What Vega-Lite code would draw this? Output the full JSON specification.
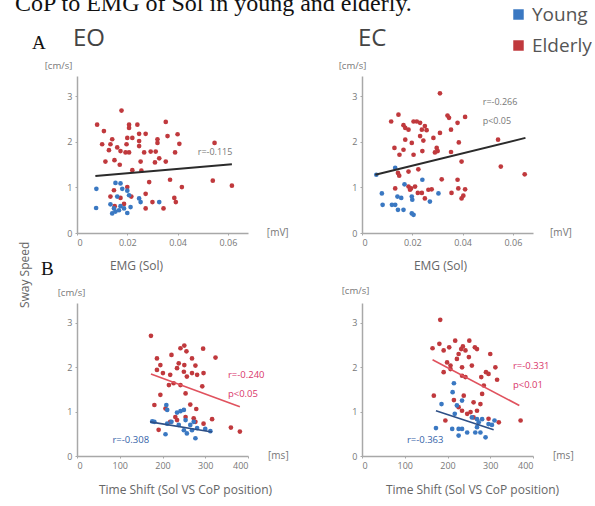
{
  "$schema": "https://vega.github.io/schema/vega-lite/v6.json",
  "background": "white",
  "padding": {"left": 15, "top": -8, "right": 0, "bottom": 6},
  "title": {"text": "CoP to EMG of Sol in young and elderly.", "anchor": "start", "frame": "group", "dx": -62, "offset": -30, "baseline": "alphabetic", "font": "Liberation Serif", "fontSize": 24, "fontWeight": "normal", "color": "#111"},
  "datasets": {
    "points": [
      {"p":"AEO","g":"Elderly","x":0.0177,"y":2.69},{"p":"AEO","g":"Elderly","x":0.008,"y":2.38},{"p":"AEO","g":"Elderly","x":0.0107,"y":2.24},{"p":"AEO","g":"Elderly","x":0.0207,"y":2.38},{"p":"AEO","g":"Elderly","x":0.024,"y":2.38},{"p":"AEO","g":"Elderly","x":0.0353,"y":2.44},{"p":"AEO","g":"Elderly","x":0.0207,"y":2.31},{"p":"AEO","g":"Elderly","x":0.014,"y":2.06},{"p":"AEO","g":"Elderly","x":0.02,"y":2.09},{"p":"AEO","g":"Elderly","x":0.022,"y":2.09},{"p":"AEO","g":"Elderly","x":0.0247,"y":2.18},{"p":"AEO","g":"Elderly","x":0.0273,"y":2.18},{"p":"AEO","g":"Elderly","x":0.032,"y":2.06},{"p":"AEO","g":"Elderly","x":0.036,"y":2.13},{"p":"AEO","g":"Elderly","x":0.04,"y":2.17},{"p":"AEO","g":"Elderly","x":0.01,"y":1.95},{"p":"AEO","g":"Elderly","x":0.0133,"y":1.95},{"p":"AEO","g":"Elderly","x":0.016,"y":1.88},{"p":"AEO","g":"Elderly","x":0.0197,"y":1.95},{"p":"AEO","g":"Elderly","x":0.0247,"y":2.02},{"p":"AEO","g":"Elderly","x":0.0247,"y":1.91},{"p":"AEO","g":"Elderly","x":0.032,"y":1.98},{"p":"AEO","g":"Elderly","x":0.0407,"y":1.96},{"p":"AEO","g":"Elderly","x":0.0547,"y":1.98},{"p":"AEO","g":"Elderly","x":0.0127,"y":1.82},{"p":"AEO","g":"Elderly","x":0.0173,"y":1.8},{"p":"AEO","g":"Elderly","x":0.0193,"y":1.77},{"p":"AEO","g":"Elderly","x":0.0207,"y":1.77},{"p":"AEO","g":"Elderly","x":0.0267,"y":1.77},{"p":"AEO","g":"Elderly","x":0.0293,"y":1.79},{"p":"AEO","g":"Elderly","x":0.0313,"y":1.79},{"p":"AEO","g":"Elderly","x":0.039,"y":1.77},{"p":"AEO","g":"Elderly","x":0.0113,"y":1.57},{"p":"AEO","g":"Elderly","x":0.0149,"y":1.6},{"p":"AEO","g":"Elderly","x":0.017,"y":1.5},{"p":"AEO","g":"Elderly","x":0.0253,"y":1.57},{"p":"AEO","g":"Elderly","x":0.031,"y":1.55},{"p":"AEO","g":"Elderly","x":0.0327,"y":1.64},{"p":"AEO","g":"Elderly","x":0.0353,"y":1.57},{"p":"AEO","g":"Elderly","x":0.022,"y":1.38},{"p":"AEO","g":"Elderly","x":0.0256,"y":1.37},{"p":"AEO","g":"Elderly","x":0.0287,"y":1.12},{"p":"AEO","g":"Elderly","x":0.037,"y":1.17},{"p":"AEO","g":"Elderly","x":0.0417,"y":1.01},{"p":"AEO","g":"Elderly","x":0.054,"y":1.15},{"p":"AEO","g":"Elderly","x":0.0616,"y":1.04},{"p":"AEO","g":"Elderly","x":0.02,"y":1.01},{"p":"AEO","g":"Elderly","x":0.0147,"y":0.94},{"p":"AEO","g":"Elderly","x":0.0133,"y":0.8},{"p":"AEO","g":"Elderly","x":0.0173,"y":0.77},{"p":"AEO","g":"Elderly","x":0.0216,"y":0.8},{"p":"AEO","g":"Elderly","x":0.0273,"y":0.86},{"p":"AEO","g":"Elderly","x":0.03,"y":0.68},{"p":"AEO","g":"Elderly","x":0.0273,"y":0.54},{"p":"AEO","g":"Elderly","x":0.0344,"y":0.54},{"p":"AEO","g":"Elderly","x":0.0387,"y":0.77},{"p":"AEO","g":"Elderly","x":0.0393,"y":0.68},{"p":"AEO","g":"Elderly","x":0.015,"y":0.59},{"p":"AEO","g":"Elderly","x":0.0187,"y":0.64},
      {"p":"AEO","g":"Young","x":0.0077,"y":0.97},{"p":"AEO","g":"Young","x":0.0076,"y":0.55},{"p":"AEO","g":"Young","x":0.0153,"y":1.1},{"p":"AEO","g":"Young","x":0.0173,"y":1.09},{"p":"AEO","g":"Young","x":0.018,"y":0.97},{"p":"AEO","g":"Young","x":0.02,"y":0.93},{"p":"AEO","g":"Young","x":0.016,"y":0.8},{"p":"AEO","g":"Young","x":0.0207,"y":0.83},{"p":"AEO","g":"Young","x":0.0247,"y":0.76},{"p":"AEO","g":"Young","x":0.0253,"y":0.68},{"p":"AEO","g":"Young","x":0.0327,"y":0.68},{"p":"AEO","g":"Young","x":0.0133,"y":0.63},{"p":"AEO","g":"Young","x":0.0147,"y":0.54},{"p":"AEO","g":"Young","x":0.014,"y":0.43},{"p":"AEO","g":"Young","x":0.0153,"y":0.47},{"p":"AEO","g":"Young","x":0.0167,"y":0.5},{"p":"AEO","g":"Young","x":0.02,"y":0.44},{"p":"AEO","g":"Young","x":0.0213,"y":0.57},{"p":"AEO","g":"Young","x":0.0173,"y":0.59},{"p":"AEO","g":"Young","x":0.0187,"y":0.54},
      {"p":"AEC","g":"Elderly","x":0.031,"y":3.07},{"p":"AEC","g":"Elderly","x":0.0145,"y":2.6},{"p":"AEC","g":"Elderly","x":0.0116,"y":2.45},{"p":"AEC","g":"Elderly","x":0.0165,"y":2.37},{"p":"AEC","g":"Elderly","x":0.0205,"y":2.45},{"p":"AEC","g":"Elderly","x":0.0218,"y":2.45},{"p":"AEC","g":"Elderly","x":0.0231,"y":2.42},{"p":"AEC","g":"Elderly","x":0.025,"y":2.35},{"p":"AEC","g":"Elderly","x":0.034,"y":2.58},{"p":"AEC","g":"Elderly","x":0.0346,"y":2.53},{"p":"AEC","g":"Elderly","x":0.038,"y":2.42},{"p":"AEC","g":"Elderly","x":0.041,"y":2.55},{"p":"AEC","g":"Elderly","x":0.0354,"y":2.27},{"p":"AEC","g":"Elderly","x":0.0172,"y":2.31},{"p":"AEC","g":"Elderly","x":0.0185,"y":2.27},{"p":"AEC","g":"Elderly","x":0.0238,"y":2.27},{"p":"AEC","g":"Elderly","x":0.0257,"y":2.26},{"p":"AEC","g":"Elderly","x":0.031,"y":2.2},{"p":"AEC","g":"Elderly","x":0.0172,"y":2.05},{"p":"AEC","g":"Elderly","x":0.0198,"y":1.98},{"p":"AEC","g":"Elderly","x":0.0231,"y":2.13},{"p":"AEC","g":"Elderly","x":0.0244,"y":2.03},{"p":"AEC","g":"Elderly","x":0.0284,"y":2.09},{"p":"AEC","g":"Elderly","x":0.0385,"y":1.99},{"p":"AEC","g":"Elderly","x":0.0129,"y":1.87},{"p":"AEC","g":"Elderly","x":0.0165,"y":1.83},{"p":"AEC","g":"Elderly","x":0.024,"y":1.8},{"p":"AEC","g":"Elderly","x":0.0297,"y":1.87},{"p":"AEC","g":"Elderly","x":0.0301,"y":1.8},{"p":"AEC","g":"Elderly","x":0.0149,"y":1.72},{"p":"AEC","g":"Elderly","x":0.0205,"y":1.72},{"p":"AEC","g":"Elderly","x":0.029,"y":1.77},{"p":"AEC","g":"Elderly","x":0.0354,"y":1.78},{"p":"AEC","g":"Elderly","x":0.0541,"y":2.05},{"p":"AEC","g":"Elderly","x":0.0396,"y":1.57},{"p":"AEC","g":"Elderly","x":0.0143,"y":1.32},{"p":"AEC","g":"Elderly","x":0.0185,"y":1.35},{"p":"AEC","g":"Elderly","x":0.0224,"y":1.4},{"p":"AEC","g":"Elderly","x":0.0148,"y":1.26},{"p":"AEC","g":"Elderly","x":0.0552,"y":1.46},{"p":"AEC","g":"Elderly","x":0.0647,"y":1.29},{"p":"AEC","g":"Elderly","x":0.0317,"y":1.18},{"p":"AEC","g":"Elderly","x":0.038,"y":1.17},{"p":"AEC","g":"Elderly","x":0.0132,"y":0.98},{"p":"AEC","g":"Elderly","x":0.0185,"y":1.02},{"p":"AEC","g":"Elderly","x":0.0195,"y":0.98},{"p":"AEC","g":"Elderly","x":0.0211,"y":1.02},{"p":"AEC","g":"Elderly","x":0.0238,"y":0.88},{"p":"AEC","g":"Elderly","x":0.0264,"y":0.95},{"p":"AEC","g":"Elderly","x":0.0277,"y":0.96},{"p":"AEC","g":"Elderly","x":0.0356,"y":0.88},{"p":"AEC","g":"Elderly","x":0.0383,"y":0.98},{"p":"AEC","g":"Elderly","x":0.041,"y":0.96},{"p":"AEC","g":"Elderly","x":0.0396,"y":0.76},{"p":"AEC","g":"Elderly","x":0.0403,"y":0.82},{"p":"AEC","g":"Elderly","x":0.025,"y":0.76},{"p":"AEC","g":"Elderly","x":0.0222,"y":0.88},{"p":"AEC","g":"Elderly","x":0.0191,"y":0.95},
      {"p":"AEC","g":"Young","x":0.0132,"y":1.43},{"p":"AEC","g":"Young","x":0.0169,"y":1.07},{"p":"AEC","g":"Young","x":0.024,"y":1.17},{"p":"AEC","g":"Young","x":0.0079,"y":0.87},{"p":"AEC","g":"Young","x":0.0082,"y":0.62},{"p":"AEC","g":"Young","x":0.0141,"y":0.8},{"p":"AEC","g":"Young","x":0.0156,"y":0.77},{"p":"AEC","g":"Young","x":0.0198,"y":0.8},{"p":"AEC","g":"Young","x":0.02,"y":0.73},{"p":"AEC","g":"Young","x":0.0304,"y":0.87},{"p":"AEC","g":"Young","x":0.027,"y":0.69},{"p":"AEC","g":"Young","x":0.0119,"y":0.62},{"p":"AEC","g":"Young","x":0.0132,"y":0.62},{"p":"AEC","g":"Young","x":0.0143,"y":0.51},{"p":"AEC","g":"Young","x":0.0165,"y":0.51},{"p":"AEC","g":"Young","x":0.0198,"y":0.43},{"p":"AEC","g":"Young","x":0.0205,"y":0.4},{"p":"AEC","g":"Young","x":0.0057,"y":1.28},
      {"p":"BEO","g":"Elderly","x":173,"y":2.71},{"p":"BEO","g":"Elderly","x":242,"y":2.43},{"p":"BEO","g":"Elderly","x":251,"y":2.49},{"p":"BEO","g":"Elderly","x":256,"y":2.36},{"p":"BEO","g":"Elderly","x":295,"y":2.42},{"p":"BEO","g":"Elderly","x":324,"y":2.22},{"p":"BEO","g":"Elderly","x":187,"y":2.2},{"p":"BEO","g":"Elderly","x":221,"y":2.28},{"p":"BEO","g":"Elderly","x":269,"y":2.2},{"p":"BEO","g":"Elderly","x":195,"y":2.05},{"p":"BEO","g":"Elderly","x":238,"y":2.09},{"p":"BEO","g":"Elderly","x":251,"y":2.05},{"p":"BEO","g":"Elderly","x":277,"y":2.04},{"p":"BEO","g":"Elderly","x":187,"y":1.94},{"p":"BEO","g":"Elderly","x":201,"y":1.87},{"p":"BEO","g":"Elderly","x":218,"y":1.83},{"p":"BEO","g":"Elderly","x":234,"y":1.98},{"p":"BEO","g":"Elderly","x":250,"y":1.9},{"p":"BEO","g":"Elderly","x":269,"y":1.87},{"p":"BEO","g":"Elderly","x":281,"y":1.83},{"p":"BEO","g":"Elderly","x":296,"y":1.87},{"p":"BEO","g":"Elderly","x":257,"y":1.79},{"p":"BEO","g":"Elderly","x":215,"y":1.6},{"p":"BEO","g":"Elderly","x":226,"y":1.64},{"p":"BEO","g":"Elderly","x":242,"y":1.6},{"p":"BEO","g":"Elderly","x":254,"y":1.41},{"p":"BEO","g":"Elderly","x":293,"y":1.57},{"p":"BEO","g":"Elderly","x":195,"y":1.38},{"p":"BEO","g":"Elderly","x":181,"y":1.15},{"p":"BEO","g":"Elderly","x":207,"y":1.07},{"p":"BEO","g":"Elderly","x":265,"y":1.16},{"p":"BEO","g":"Elderly","x":279,"y":1.06},{"p":"BEO","g":"Elderly","x":191,"y":0.59},{"p":"BEO","g":"Elderly","x":230,"y":0.88},{"p":"BEO","g":"Elderly","x":254,"y":0.88},{"p":"BEO","g":"Elderly","x":273,"y":0.85},{"p":"BEO","g":"Elderly","x":277,"y":0.77},{"p":"BEO","g":"Elderly","x":218,"y":0.77},{"p":"BEO","g":"Elderly","x":234,"y":0.81},{"p":"BEO","g":"Elderly","x":296,"y":0.73},{"p":"BEO","g":"Elderly","x":316,"y":0.83},{"p":"BEO","g":"Elderly","x":360,"y":0.64},{"p":"BEO","g":"Elderly","x":381,"y":0.55},
      {"p":"BEO","g":"Young","x":209,"y":1.15},{"p":"BEO","g":"Young","x":211,"y":1.04},{"p":"BEO","g":"Young","x":176,"y":0.78},{"p":"BEO","g":"Young","x":181,"y":0.77},{"p":"BEO","g":"Young","x":211,"y":0.73},{"p":"BEO","g":"Young","x":221,"y":0.77},{"p":"BEO","g":"Young","x":234,"y":0.98},{"p":"BEO","g":"Young","x":242,"y":1.01},{"p":"BEO","g":"Young","x":250,"y":1.04},{"p":"BEO","g":"Young","x":254,"y":0.81},{"p":"BEO","g":"Young","x":238,"y":0.7},{"p":"BEO","g":"Young","x":250,"y":0.58},{"p":"BEO","g":"Young","x":257,"y":0.51},{"p":"BEO","g":"Young","x":269,"y":0.58},{"p":"BEO","g":"Young","x":277,"y":0.4},{"p":"BEO","g":"Young","x":300,"y":0.61},{"p":"BEO","g":"Young","x":312,"y":0.56},{"p":"BEO","g":"Young","x":207,"y":0.49},{"p":"BEO","g":"Young","x":281,"y":0.63},{"p":"BEO","g":"Young","x":265,"y":0.7},{"p":"BEO","g":"Young","x":273,"y":0.77},
      {"p":"BEC","g":"Elderly","x":183,"y":3.07},{"p":"BEC","g":"Elderly","x":165,"y":2.43},{"p":"BEC","g":"Elderly","x":181,"y":2.53},{"p":"BEC","g":"Elderly","x":191,"y":2.38},{"p":"BEC","g":"Elderly","x":204,"y":2.45},{"p":"BEC","g":"Elderly","x":218,"y":2.6},{"p":"BEC","g":"Elderly","x":232,"y":2.41},{"p":"BEC","g":"Elderly","x":236,"y":2.47},{"p":"BEC","g":"Elderly","x":242,"y":2.38},{"p":"BEC","g":"Elderly","x":251,"y":2.6},{"p":"BEC","g":"Elderly","x":264,"y":2.45},{"p":"BEC","g":"Elderly","x":269,"y":2.41},{"p":"BEC","g":"Elderly","x":226,"y":2.3},{"p":"BEC","g":"Elderly","x":222,"y":2.19},{"p":"BEC","g":"Elderly","x":250,"y":2.23},{"p":"BEC","g":"Elderly","x":300,"y":2.3},{"p":"BEC","g":"Elderly","x":199,"y":2.11},{"p":"BEC","g":"Elderly","x":207,"y":2.04},{"p":"BEC","g":"Elderly","x":207,"y":1.96},{"p":"BEC","g":"Elderly","x":191,"y":1.89},{"p":"BEC","g":"Elderly","x":234,"y":2.0},{"p":"BEC","g":"Elderly","x":257,"y":2.04},{"p":"BEC","g":"Elderly","x":234,"y":1.81},{"p":"BEC","g":"Elderly","x":242,"y":1.78},{"p":"BEC","g":"Elderly","x":279,"y":1.78},{"p":"BEC","g":"Elderly","x":290,"y":1.89},{"p":"BEC","g":"Elderly","x":296,"y":1.85},{"p":"BEC","g":"Elderly","x":312,"y":2.0},{"p":"BEC","g":"Elderly","x":316,"y":1.72},{"p":"BEC","g":"Elderly","x":285,"y":1.59},{"p":"BEC","g":"Elderly","x":168,"y":1.36},{"p":"BEC","g":"Elderly","x":215,"y":1.26},{"p":"BEC","g":"Elderly","x":238,"y":1.36},{"p":"BEC","g":"Elderly","x":261,"y":1.21},{"p":"BEC","g":"Elderly","x":281,"y":1.4},{"p":"BEC","g":"Elderly","x":195,"y":0.8},{"p":"BEC","g":"Elderly","x":234,"y":1.02},{"p":"BEC","g":"Elderly","x":246,"y":0.95},{"p":"BEC","g":"Elderly","x":254,"y":0.99},{"p":"BEC","g":"Elderly","x":269,"y":1.02},{"p":"BEC","g":"Elderly","x":296,"y":0.84},{"p":"BEC","g":"Elderly","x":277,"y":1.17},{"p":"BEC","g":"Elderly","x":371,"y":0.8},{"p":"BEC","g":"Elderly","x":320,"y":0.76},{"p":"BEC","g":"Elderly","x":261,"y":0.87},{"p":"BEC","g":"Elderly","x":226,"y":1.1},
      {"p":"BEC","g":"Young","x":215,"y":1.64},{"p":"BEC","g":"Young","x":212,"y":1.44},{"p":"BEC","g":"Young","x":186,"y":1.17},{"p":"BEC","g":"Young","x":222,"y":1.14},{"p":"BEC","g":"Young","x":234,"y":1.25},{"p":"BEC","g":"Young","x":173,"y":0.63},{"p":"BEC","g":"Young","x":217,"y":0.95},{"p":"BEC","g":"Young","x":211,"y":0.61},{"p":"BEC","g":"Young","x":226,"y":0.61},{"p":"BEC","g":"Young","x":234,"y":0.61},{"p":"BEC","g":"Young","x":226,"y":0.46},{"p":"BEC","g":"Young","x":246,"y":0.53},{"p":"BEC","g":"Young","x":257,"y":0.87},{"p":"BEC","g":"Young","x":269,"y":0.83},{"p":"BEC","g":"Young","x":273,"y":0.76},{"p":"BEC","g":"Young","x":269,"y":0.65},{"p":"BEC","g":"Young","x":277,"y":0.53},{"p":"BEC","g":"Young","x":289,"y":0.42},{"p":"BEC","g":"Young","x":296,"y":0.72},{"p":"BEC","g":"Young","x":310,"y":0.8},{"p":"BEC","g":"Young","x":304,"y":0.7},{"p":"BEC","g":"Young","x":265,"y":0.53},{"p":"BEC","g":"Young","x":281,"y":0.83}
    ],
    "fits": [
      {"p":"AEO","g":"All","x":0.0073,"y":1.25},{"p":"AEO","g":"All","x":0.0616,"y":1.51},
      {"p":"AEC","g":"All","x":0.0053,"y":1.28},{"p":"AEC","g":"All","x":0.065,"y":2.09},
      {"p":"BEO","g":"Elderly","x":173,"y":1.85},{"p":"BEO","g":"Elderly","x":381,"y":1.11},
      {"p":"BEO","g":"Young","x":171,"y":0.77},{"p":"BEO","g":"Young","x":316,"y":0.54},
      {"p":"BEC","g":"Elderly","x":165,"y":2.17},{"p":"BEC","g":"Elderly","x":368,"y":1.14},
      {"p":"BEC","g":"Young","x":173,"y":1.02},{"p":"BEC","g":"Young","x":308,"y":0.59}
    ],
    "notes": [
      {"p":"AEO","g":"All","x":0.048,"y":1.78,"t":"r=-0.115"},
      {"p":"AEC","g":"All","x":0.048,"y":2.88,"t":"r=-0.266"},
      {"p":"AEC","g":"All","x":0.048,"y":2.46,"t":"p<0.05"},
      {"p":"BEO","g":"Elderly","x":353,"y":1.83,"t":"r=-0.240"},
      {"p":"BEO","g":"Elderly","x":353,"y":1.4,"t":"p<0.05"},
      {"p":"BEO","g":"Young","x":83,"y":0.35,"t":"r=-0.308"},
      {"p":"BEC","g":"Elderly","x":353,"y":2.04,"t":"r=-0.331"},
      {"p":"BEC","g":"Elderly","x":353,"y":1.59,"t":"p<0.01"},
      {"p":"BEC","g":"Young","x":105,"y":0.35,"t":"r=-0.363"}
    ],
    "labels": [
      {"p":"AEO","k":"unit","x":0.0755,"y":0,"t":"[mV]"},
      {"p":"AEC","k":"unit","x":0.0748,"y":0,"t":"[mV]"},
      {"p":"BEO","k":"unit","x":447,"y":0,"t":"[ms]"},
      {"p":"BEC","k":"unit","x":447,"y":0,"t":"[ms]"},
      {"p":"AEO","k":"letter","x":-0.0179,"y":4.04,"t":"A"},
      {"p":"BEO","k":"letter","x":-84,"y":4.09,"t":"B"},
      {"p":"AEO","k":"side","x":-0.0207,"y":-0.92,"t":"Sway Speed"}
    ]
  },
  "bounds": "flush",
  "columns": 2,
  "spacing": {"row": 70, "column": 114},
  "concat": [
    {
      "width": 171, "height": 157,
      "title": {"text": "EO", "anchor": "start", "frame": "group", "dx": -4, "offset": -36, "baseline": "alphabetic", "font": "Open Sans", "fontSize": 24, "fontWeight": "normal", "color": "#444"},
      "encoding": {
        "x": {"field": "x", "type": "quantitative", "scale": {"domain": [0, 0.068], "nice": false, "zero": false}, "axis": {"values": [0, 0.02, 0.04, 0.06], "format": "~g", "title": "EMG (Sol)", "titleX": 59, "titleY": 32}},
        "y": {"field": "y", "type": "quantitative", "scale": {"domain": [0, 3.45], "nice": false}, "axis": {"values": [0, 1, 2, 3], "title": "[cm/s]", "titleX": -19, "titleY": -11}}
      },
      "layer": [
        {"data": {"name": "points"}, "transform": [{"filter": "datum.p === 'AEO'"}], "mark": {"type": "circle", "size": 22, "opacity": 1},
         "encoding": {"color": {"field": "g", "type": "nominal", "scale": {"domain": ["Young", "Elderly"], "range": ["#3a78c2", "#c0393d"]}, "legend": {"title": null, "orient": "none", "legendX": 432, "legendY": -71, "symbolType": "square", "symbolSize": 110, "symbolStrokeWidth": 0, "labelFontSize": 19, "labelColor": "#555", "labelFont": "Open Sans", "rowPadding": 11, "labelOffset": 4, "padding": 0}}}},
        {"data": {"name": "fits"}, "transform": [{"filter": "datum.p === 'AEO'"}], "mark": {"type": "line", "color": "#2b2b2b", "strokeWidth": 2}, "encoding": {"detail": {"field": "g"}}},
        {"data": {"name": "notes"}, "transform": [{"filter": "datum.p === 'AEO'"}], "mark": {"type": "text", "align": "left", "baseline": "middle", "fontSize": 9, "color": "#777"}, "encoding": {"text": {"field": "t"}}},
        {"data": {"name": "labels"}, "transform": [{"filter": "datum.p === 'AEO' && datum.k === 'unit'"}], "mark": {"type": "text", "align": "left", "baseline": "middle", "fontSize": 10, "color": "#777"}, "encoding": {"text": {"field": "t"}}},
        {"data": {"name": "labels"}, "transform": [{"filter": "datum.p === 'AEO' && datum.k === 'letter'"}], "mark": {"type": "text", "align": "left", "baseline": "alphabetic", "font": "Liberation Serif", "fontSize": 19, "color": "#111"}, "encoding": {"text": {"field": "t"}}},
        {"data": {"name": "labels"}, "transform": [{"filter": "datum.p === 'AEO' && datum.k === 'side'"}], "mark": {"type": "text", "align": "center", "baseline": "middle", "angle": 270, "fontSize": 12, "color": "#666"}, "encoding": {"text": {"field": "t"}}}
      ]
    },
    {
      "width": 171, "height": 157,
      "title": {"text": "EC", "anchor": "start", "frame": "group", "dx": -4, "offset": -10, "baseline": "alphabetic", "font": "Open Sans", "fontSize": 24, "fontWeight": "normal", "color": "#444"},
      "encoding": {
        "x": {"field": "x", "type": "quantitative", "scale": {"domain": [0, 0.068], "nice": false, "zero": false}, "axis": {"values": [0, 0.02, 0.04, 0.06], "format": "~g", "title": "EMG (Sol)", "titleX": 78, "titleY": 32}},
        "y": {"field": "y", "type": "quantitative", "scale": {"domain": [0, 3.45], "nice": false}, "axis": {"values": [0, 1, 2, 3], "title": "[cm/s]", "titleX": -10, "titleY": -11}}
      },
      "layer": [
        {"data": {"name": "points"}, "transform": [{"filter": "datum.p === 'AEC'"}], "mark": {"type": "circle", "size": 22, "opacity": 1},
         "encoding": {"color": {"field": "g", "type": "nominal", "scale": {"domain": ["Young", "Elderly"], "range": ["#3a78c2", "#c0393d"]}, "legend": {"title": null, "orient": "none", "legendX": 432, "legendY": -71, "symbolType": "square", "symbolSize": 110, "symbolStrokeWidth": 0, "labelFontSize": 19, "labelColor": "#555", "labelFont": "Open Sans", "rowPadding": 11, "labelOffset": 4, "padding": 0}}}},
        {"data": {"name": "fits"}, "transform": [{"filter": "datum.p === 'AEC'"}], "mark": {"type": "line", "color": "#2b2b2b", "strokeWidth": 2}, "encoding": {"detail": {"field": "g"}}},
        {"data": {"name": "notes"}, "transform": [{"filter": "datum.p === 'AEC'"}], "mark": {"type": "text", "align": "left", "baseline": "middle", "fontSize": 9, "color": "#777"}, "encoding": {"text": {"field": "t"}}},
        {"data": {"name": "labels"}, "transform": [{"filter": "datum.p === 'AEC' && datum.k === 'unit'"}], "mark": {"type": "text", "align": "left", "baseline": "middle", "fontSize": 10, "color": "#777"}, "encoding": {"text": {"field": "t"}}}
      ]
    },
    {
      "width": 171, "height": 153,
      "encoding": {
        "x": {"field": "x", "type": "quantitative", "scale": {"domain": [0, 400], "nice": false, "zero": false}, "axis": {"values": [0, 100, 200, 300, 400], "format": "d", "title": "Time Shift (Sol VS CoP position)", "titleX": 108, "titleY": 33}},
        "y": {"field": "y", "type": "quantitative", "scale": {"domain": [0, 3.45], "nice": false}, "axis": {"values": [0, 1, 2, 3], "title": "[cm/s]", "titleX": -6, "titleY": -11}}
      },
      "layer": [
        {"data": {"name": "points"}, "transform": [{"filter": "datum.p === 'BEO'"}], "mark": {"type": "circle", "size": 22, "opacity": 1},
         "encoding": {"color": {"field": "g", "type": "nominal", "scale": {"domain": ["Young", "Elderly"], "range": ["#3a78c2", "#c0393d"]}, "legend": {"title": null, "orient": "none", "legendX": 432, "legendY": -71, "symbolType": "square", "symbolSize": 110, "symbolStrokeWidth": 0, "labelFontSize": 19, "labelColor": "#555", "labelFont": "Open Sans", "rowPadding": 11, "labelOffset": 4, "padding": 0}}}},
        {"data": {"name": "fits"}, "transform": [{"filter": "datum.p === 'BEO' && datum.g === 'Elderly'"}], "mark": {"type": "line", "color": "#e0525e", "strokeWidth": 1.6}, "encoding": {"detail": {"field": "g"}}},
        {"data": {"name": "fits"}, "transform": [{"filter": "datum.p === 'BEO' && datum.g === 'Young'"}], "mark": {"type": "line", "color": "#2d4f86", "strokeWidth": 1.6}, "encoding": {"detail": {"field": "g"}}},
        {"data": {"name": "notes"}, "transform": [{"filter": "datum.p === 'BEO'"}], "mark": {"type": "text", "align": "left", "baseline": "middle", "fontSize": 9.5},
         "encoding": {"text": {"field": "t"}, "color": {"condition": {"test": "datum.g === 'Young'", "value": "#3563a9"}, "value": "#d9366b"}}},
        {"data": {"name": "labels"}, "transform": [{"filter": "datum.p === 'BEO' && datum.k === 'unit'"}], "mark": {"type": "text", "align": "left", "baseline": "middle", "fontSize": 10, "color": "#777"}, "encoding": {"text": {"field": "t"}}},
        {"data": {"name": "labels"}, "transform": [{"filter": "datum.p === 'BEO' && datum.k === 'letter'"}], "mark": {"type": "text", "align": "left", "baseline": "alphabetic", "font": "Liberation Serif", "fontSize": 19, "color": "#111"}, "encoding": {"text": {"field": "t"}}}
      ]
    },
    {
      "width": 171, "height": 153,
      "encoding": {
        "x": {"field": "x", "type": "quantitative", "scale": {"domain": [0, 400], "nice": false, "zero": false}, "axis": {"values": [0, 100, 200, 300, 400], "format": "d", "title": "Time Shift (Sol VS CoP position)", "titleX": 110, "titleY": 33}},
        "y": {"field": "y", "type": "quantitative", "scale": {"domain": [0, 3.45], "nice": false}, "axis": {"values": [0, 1, 2, 3], "title": "[cm/s]", "titleX": -7, "titleY": -13}}
      },
      "layer": [
        {"data": {"name": "points"}, "transform": [{"filter": "datum.p === 'BEC'"}], "mark": {"type": "circle", "size": 22, "opacity": 1},
         "encoding": {"color": {"field": "g", "type": "nominal", "scale": {"domain": ["Young", "Elderly"], "range": ["#3a78c2", "#c0393d"]}, "legend": {"title": null, "orient": "none", "legendX": 432, "legendY": -71, "symbolType": "square", "symbolSize": 110, "symbolStrokeWidth": 0, "labelFontSize": 19, "labelColor": "#555", "labelFont": "Open Sans", "rowPadding": 11, "labelOffset": 4, "padding": 0}}}},
        {"data": {"name": "fits"}, "transform": [{"filter": "datum.p === 'BEC' && datum.g === 'Elderly'"}], "mark": {"type": "line", "color": "#e0525e", "strokeWidth": 1.6}, "encoding": {"detail": {"field": "g"}}},
        {"data": {"name": "fits"}, "transform": [{"filter": "datum.p === 'BEC' && datum.g === 'Young'"}], "mark": {"type": "line", "color": "#2d4f86", "strokeWidth": 1.6}, "encoding": {"detail": {"field": "g"}}},
        {"data": {"name": "notes"}, "transform": [{"filter": "datum.p === 'BEC'"}], "mark": {"type": "text", "align": "left", "baseline": "middle", "fontSize": 9.5},
         "encoding": {"text": {"field": "t"}, "color": {"condition": {"test": "datum.g === 'Young'", "value": "#3563a9"}, "value": "#d9366b"}}},
        {"data": {"name": "labels"}, "transform": [{"filter": "datum.p === 'BEC' && datum.k === 'unit'"}], "mark": {"type": "text", "align": "left", "baseline": "middle", "fontSize": 10, "color": "#777"}, "encoding": {"text": {"field": "t"}}}
      ]
    }
  ],
  "config": {
    "view": {"stroke": null},
    "font": "Open Sans",
    "axis": {"grid": false, "domainColor": "#a8a8a8", "domainWidth": 1.5, "tickColor": "#a8a8a8", "tickSize": 2, "labelColor": "#777", "labelFontSize": 9, "labelFont": "Open Sans", "labelPadding": 3, "titleFont": "Open Sans", "titleFontWeight": "normal", "titleColor": "#666", "titleFontSize": 12},
    "axisX": {"titleBaseline": "middle", "titleAlign": "center"},
    "axisY": {"titleAngle": 0, "titleAlign": "center", "titleBaseline": "middle", "titleFontSize": 9.5, "titleColor": "#777"}
  }
}
